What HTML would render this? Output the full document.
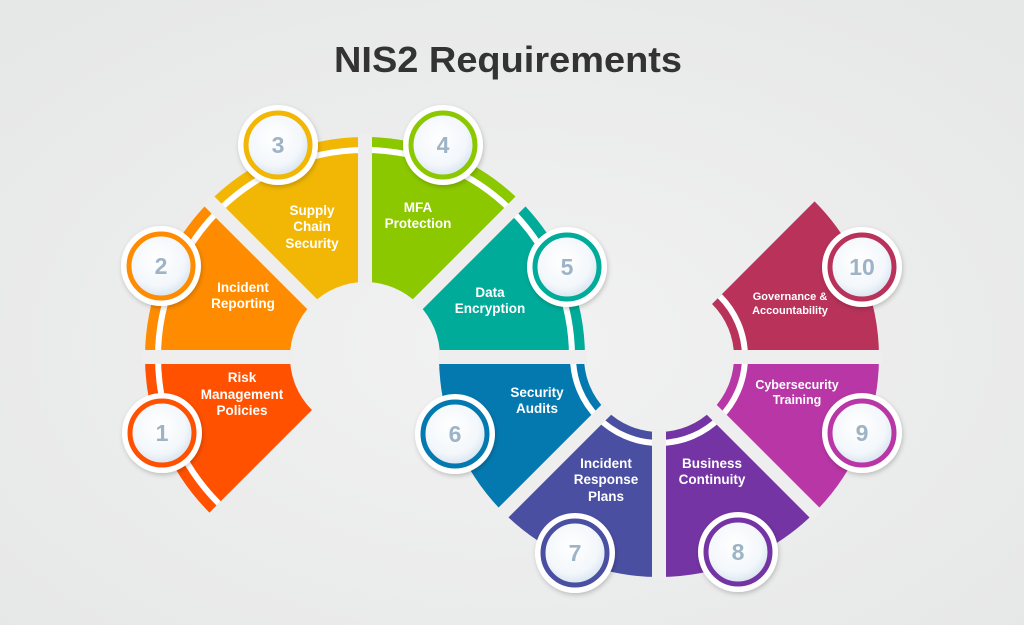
<!DOCTYPE html>
<html><head><meta charset="utf-8"><style>
html,body{margin:0;padding:0;}
body{width:1024px;height:625px;overflow:hidden;}
svg{display:block;}
text{font-family:"Liberation Sans",sans-serif;}
</style></head><body>
<svg width="1024" height="625" viewBox="0 0 1024 625" xmlns="http://www.w3.org/2000/svg">
<defs>
<radialGradient id="bg" cx="50%" cy="55%" r="70%">
<stop offset="0" stop-color="#f2f2f2"/><stop offset="1" stop-color="#e6e7e7"/>
</radialGradient>
<radialGradient id="bf" cx="45%" cy="40%" r="60%">
<stop offset="0" stop-color="#ffffff"/><stop offset="0.7" stop-color="#f3f7fb"/><stop offset="1" stop-color="#d6e3ef"/>
</radialGradient>
<filter id="sh" x="-30%" y="-30%" width="160%" height="160%"><feDropShadow dx="1" dy="2" stdDeviation="2.5" flood-color="#000" flood-opacity="0.2"/></filter>
</defs>
<rect width="1024" height="625" fill="url(#bg)"/>
<text x="508" y="72" text-anchor="middle" font-size="36" font-weight="bold" fill="#333" textLength="348" lengthAdjust="spacingAndGlyphs">NIS2 Requirements</text>

<g fill="none" stroke-width="145">
<circle cx="365" cy="357" r="147.5" stroke="#ff5100" stroke-dasharray="115.85 900" transform="rotate(135 365 357)"/>
<circle cx="365" cy="357" r="147.5" stroke="#ff8c00" stroke-dasharray="115.85 900" transform="rotate(180 365 357)"/>
<circle cx="365" cy="357" r="147.5" stroke="#f2b705" stroke-dasharray="115.85 900" transform="rotate(225 365 357)"/>
<circle cx="365" cy="357" r="147.5" stroke="#8cc800" stroke-dasharray="115.85 900" transform="rotate(270 365 357)"/>
<circle cx="365" cy="357" r="147.5" stroke="#00ab9a" stroke-dasharray="115.85 900" transform="rotate(315 365 357)"/>
<circle cx="659" cy="357" r="147.5" stroke="#b8325a" stroke-dasharray="115.85 900" transform="rotate(-45 659 357)"/>
<circle cx="659" cy="357" r="147.5" stroke="#b836a6" stroke-dasharray="115.85 900" transform="rotate(0 659 357)"/>
<circle cx="659" cy="357" r="147.5" stroke="#7434a4" stroke-dasharray="115.85 900" transform="rotate(45 659 357)"/>
<circle cx="659" cy="357" r="147.5" stroke="#4a4fa2" stroke-dasharray="115.85 900" transform="rotate(90 659 357)"/>
<circle cx="659" cy="357" r="147.5" stroke="#0479b0" stroke-dasharray="115.85 900" transform="rotate(135 659 357)"/>
</g>
<g fill="none" stroke="#fff" stroke-width="6">
<circle cx="365" cy="357" r="207" stroke-dasharray="812.9 600" transform="rotate(135 365 357)"/>
<circle cx="659" cy="357" r="86" stroke-dasharray="337.7 300" transform="rotate(-45 659 357)"/>
</g>
<g stroke="#eeeeee" stroke-width="14">
<line x1="293" y1="357" x2="142" y2="357"/>
<line x1="314.1" y1="306.1" x2="207" y2="199"/>
<line x1="365" y1="285" x2="365" y2="134"/>
<line x1="415.9" y1="306.1" x2="523" y2="199"/>
<line x1="438" y1="357" x2="587" y2="357"/>
<line x1="731" y1="357" x2="882" y2="357"/>
<line x1="709.9" y1="407.9" x2="817" y2="515"/>
<line x1="659" y1="429" x2="659" y2="580"/>
<line x1="608.1" y1="407.9" x2="501" y2="515"/>
</g>

<g font-size="13.5" font-weight="bold" fill="#fff" text-anchor="middle">
<text x="242" y="382">Risk</text><text x="242" y="399">Management</text><text x="242" y="415">Policies</text>
<text x="243" y="292">Incident</text><text x="243" y="308">Reporting</text>
<text x="312" y="215">Supply</text><text x="312" y="231">Chain</text><text x="312" y="248">Security</text>
<text x="418" y="212">MFA</text><text x="418" y="228">Protection</text>
<text x="490" y="297">Data</text><text x="490" y="313">Encryption</text>
<text x="537" y="397">Security</text><text x="537" y="413">Audits</text>
<text x="606" y="468">Incident</text><text x="606" y="484">Response</text><text x="606" y="501">Plans</text>
<text x="712" y="468">Business</text><text x="712" y="484">Continuity</text>
<text x="797" y="389" font-size="12.5">Cybersecurity</text><text x="797" y="404" font-size="12.5">Training</text>
<text x="790" y="300" font-size="11">Governance &amp;</text><text x="790" y="314" font-size="11">Accountability</text>
</g>

<g font-size="23" font-weight="bold" fill="#9db3c6" text-anchor="middle">
<g><circle cx="162" cy="433" r="40" fill="#fff" filter="url(#sh)"/><circle cx="162" cy="433" r="32" fill="url(#bf)" stroke="#ff5100" stroke-width="5"/><text x="162" y="441">1</text></g>
<g><circle cx="161" cy="266" r="40" fill="#fff" filter="url(#sh)"/><circle cx="161" cy="266" r="32" fill="url(#bf)" stroke="#ff8c00" stroke-width="5"/><text x="161" y="274">2</text></g>
<g><circle cx="278" cy="145" r="40" fill="#fff" filter="url(#sh)"/><circle cx="278" cy="145" r="32" fill="url(#bf)" stroke="#f2b705" stroke-width="5"/><text x="278" y="153">3</text></g>
<g><circle cx="443" cy="145" r="40" fill="#fff" filter="url(#sh)"/><circle cx="443" cy="145" r="32" fill="url(#bf)" stroke="#8cc800" stroke-width="5"/><text x="443" y="153">4</text></g>
<g><circle cx="567" cy="267" r="40" fill="#fff" filter="url(#sh)"/><circle cx="567" cy="267" r="32" fill="url(#bf)" stroke="#00ab9a" stroke-width="5"/><text x="567" y="275">5</text></g>
<g><circle cx="455" cy="434" r="40" fill="#fff" filter="url(#sh)"/><circle cx="455" cy="434" r="32" fill="url(#bf)" stroke="#0479b0" stroke-width="5"/><text x="455" y="442">6</text></g>
<g><circle cx="575" cy="553" r="40" fill="#fff" filter="url(#sh)"/><circle cx="575" cy="553" r="32" fill="url(#bf)" stroke="#4a4fa2" stroke-width="5"/><text x="575" y="561">7</text></g>
<g><circle cx="738" cy="552" r="40" fill="#fff" filter="url(#sh)"/><circle cx="738" cy="552" r="32" fill="url(#bf)" stroke="#7434a4" stroke-width="5"/><text x="738" y="560">8</text></g>
<g><circle cx="862" cy="433" r="40" fill="#fff" filter="url(#sh)"/><circle cx="862" cy="433" r="32" fill="url(#bf)" stroke="#b836a6" stroke-width="5"/><text x="862" y="441">9</text></g>
<g><circle cx="862" cy="267" r="40" fill="#fff" filter="url(#sh)"/><circle cx="862" cy="267" r="32" fill="url(#bf)" stroke="#b8325a" stroke-width="5"/><text x="862" y="275">10</text></g>
</g>
</svg>
</body></html>
